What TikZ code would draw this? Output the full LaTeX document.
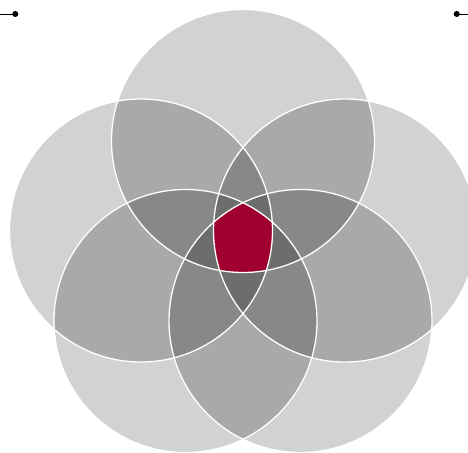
\documentclass[tikz,border=0pt]{standalone}
\definecolor{venna}{RGB}{209,210,210}
\definecolor{vennb}{RGB}{168,169,169}
\definecolor{vennc}{RGB}{135,137,136}
\definecolor{vennd}{RGB}{108,110,109}
\definecolor{venncore}{RGB}{160,0,47}
\tikzset{
  one/.style={fill=venna},
  two/.style={fill=vennb},
  three/.style={fill=vennc},
  four/.style={fill=vennd},
  core/.style={fill=venncore},
  rim/.style={draw=white,line width=1.3pt},
  tick/.style={line width=0.9pt},
}
\def\rr{131.5}
\begin{document}
\begin{tikzpicture}[x=1pt,y=-1pt]%
\useasboundingbox (0,0) rectangle (468,452);
% circle centres
\coordinate (c1) at (243,141);
\coordinate (c2) at (345,230.5);
\coordinate (c3) at (300.5,321);
\coordinate (c4) at (185.5,321);
\coordinate (c5) at (141,230.5);
% corner marks
\coordinate (tl) at (0,14);
\coordinate (tld) at (15.3,14);
\coordinate (trd) at (456.7,14);
\coordinate (tr) at (468,14);
\draw[tick] (tl) -- (tld);
\fill (tld) circle (3);
\draw[tick] (trd) -- (tr);
\fill (trd) circle (3);
% single cover
\foreach \i in {1,...,5}
  \fill[one] (c\i) circle (\rr);
% pairs
\foreach \i in {1,...,5}{\foreach \j in {1,...,5}{%
  \ifnum\i<\j
  \begin{scope}
    \clip (c\i) circle (\rr);
    \fill[two] (c\j) circle (\rr);
  \end{scope}
  \fi}}
% triples
\foreach \i in {1,...,5}{\foreach \j in {1,...,5}{\foreach \k in {1,...,5}{%
  \ifnum\i<\j \ifnum\j<\k
  \begin{scope}
    \clip (c\i) circle (\rr);
    \clip (c\j) circle (\rr);
    \fill[three] (c\k) circle (\rr);
  \end{scope}
  \fi\fi}}}
% quadruples
\foreach \k in {1,...,5}{%
  \begin{scope}
    \foreach \m in {1,...,5}{\ifnum\m=\k\else\clip (c\m) circle (\rr);\fi}
    \fill[four] (0,0) rectangle (468,452);
  \end{scope}}
% all five
\begin{scope}
  \foreach \m in {1,...,5}{\clip (c\m) circle (\rr);}
  \fill[core] (0,0) rectangle (468,452);
\end{scope}
% outlines
\foreach \i in {1,...,5}
  \draw[rim] (c\i) circle (\rr);
\end{tikzpicture}
\end{document}
